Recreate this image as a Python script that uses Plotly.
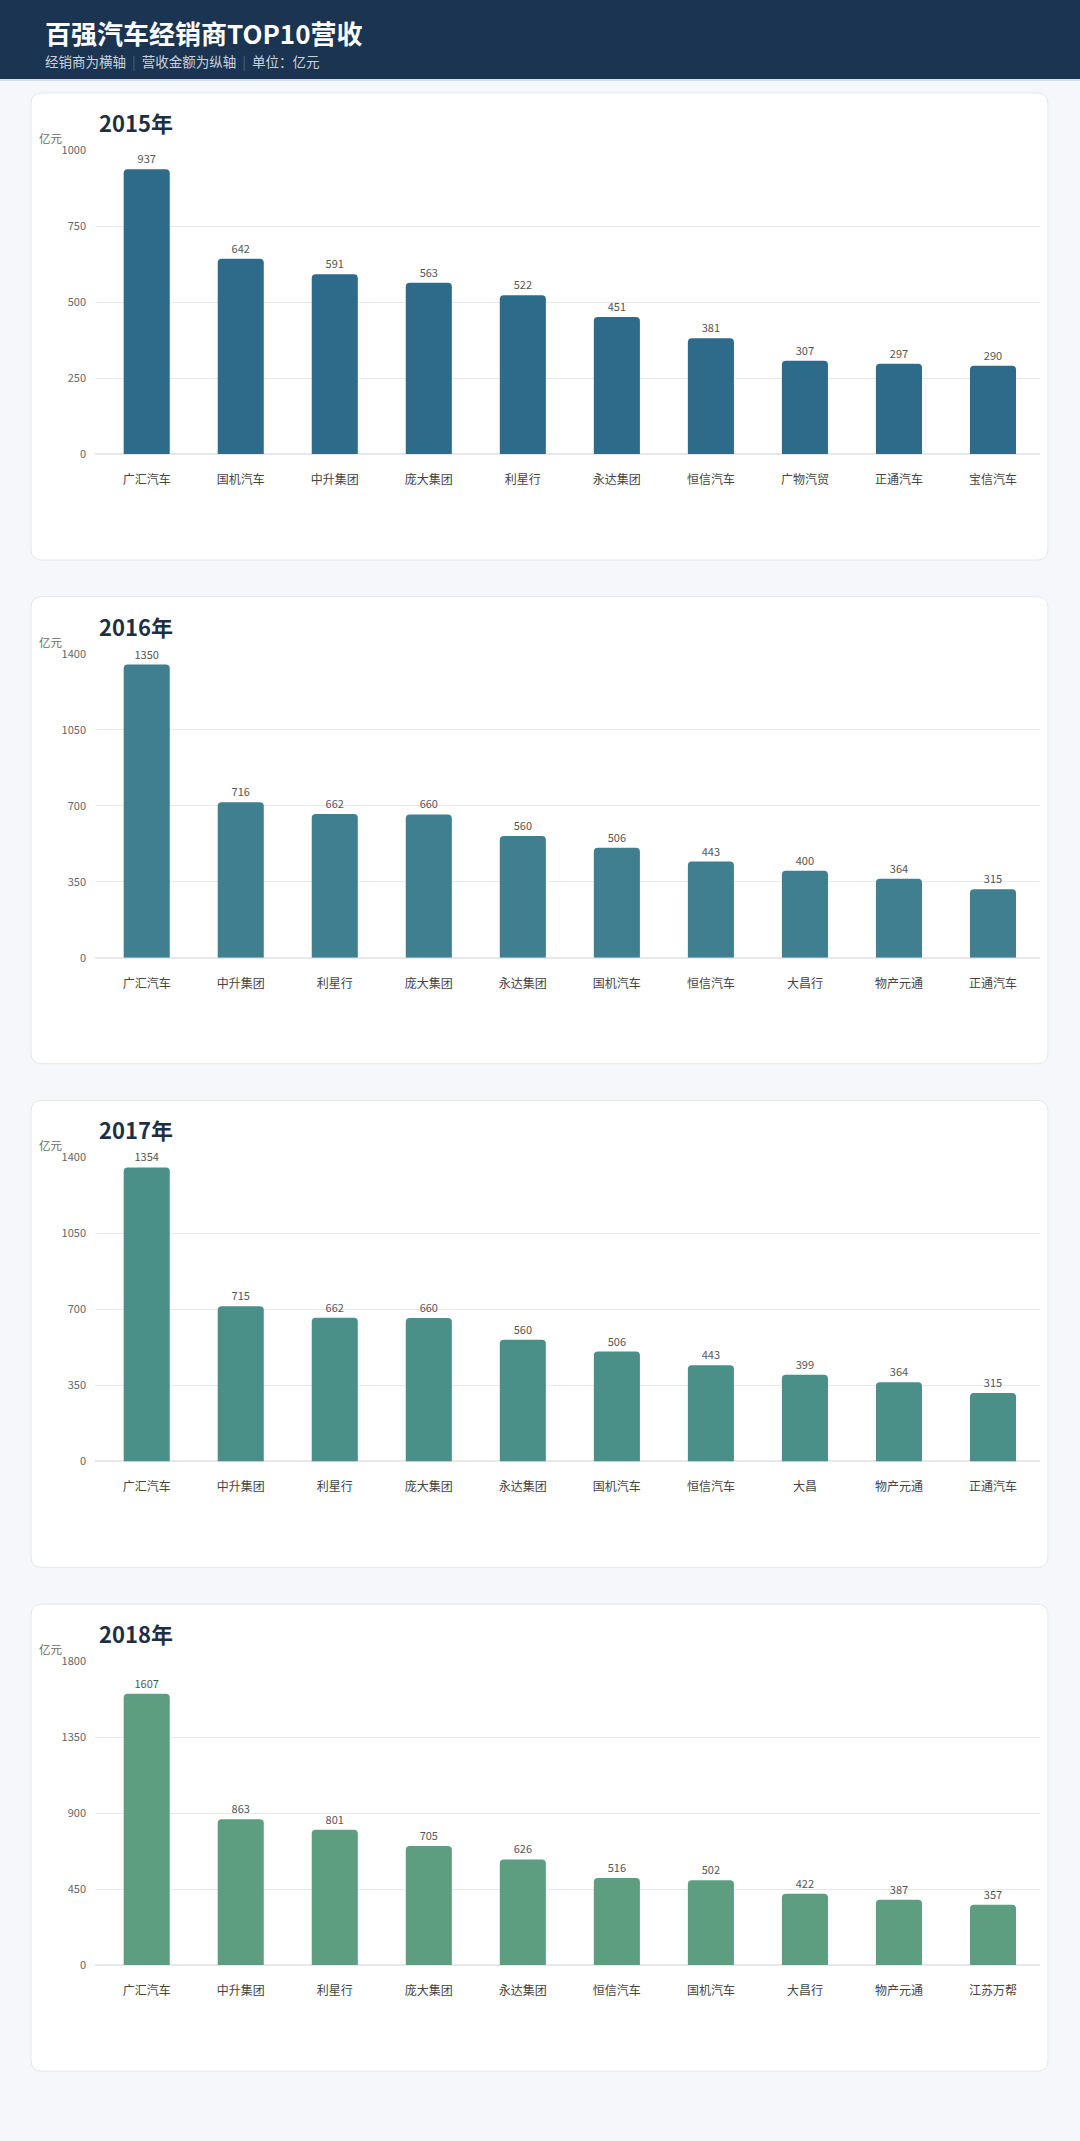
import plotly.graph_objects as go

# ---------------- data ----------------
years = ["2015年", "2016年", "2017年", "2018年"]

dealers_2015 = ["广汇汽车", "国机汽车", "中升集团", "庞大集团", "利星行", "永达集团", "恒信汽车", "广物汽贸", "正通汽车", "宝信汽车"]
revenue_2015 = [937, 642, 591, 563, 522, 451, 381, 307, 297, 290]

dealers_2016 = ["广汇汽车", "中升集团", "利星行", "庞大集团", "永达集团", "国机汽车", "恒信汽车", "大昌行", "物产元通", "正通汽车"]
revenue_2016 = [1350, 716, 662, 660, 560, 506, 443, 400, 364, 315]

dealers_2017 = ["广汇汽车", "中升集团", "利星行", "庞大集团", "永达集团", "国机汽车", "恒信汽车", "大昌", "物产元通", "正通汽车"]
revenue_2017 = [1354, 715, 662, 660, 560, 506, 443, 399, 364, 315]

dealers_2018 = ["广汇汽车", "中升集团", "利星行", "庞大集团", "永达集团", "恒信汽车", "国机汽车", "大昌行", "物产元通", "江苏万帮"]
revenue_2018 = [1607, 863, 801, 705, 626, 516, 502, 422, 387, 357]

ticks_2015 = [0, 250, 500, 750, 1000]
ticks_2016 = [0, 350, 700, 1050, 1400]
ticks_2017 = [0, 350, 700, 1050, 1400]
ticks_2018 = [0, 450, 900, 1350, 1800]

all_dealers = [dealers_2015, dealers_2016, dealers_2017, dealers_2018]
all_revenue = [revenue_2015, revenue_2016, revenue_2017, revenue_2018]
all_ticks = [ticks_2015, ticks_2016, ticks_2017, ticks_2018]
bar_colors = ["#2e6b8a", "#3f7f8f", "#4a9088", "#5e9e80"]

# ---------------- layout helpers ----------------
W, H = 1080, 2141
FONT = "Noto Sans CJK SC, Noto Sans, sans-serif"


def px(x):
    return x / W


def py(y):
    return 1 - y / H


def rounded_rect(x0, y0, x1, y1, r):
    rx, ry = r / W, r / H
    X0, X1 = px(x0), px(x1)
    Y0, Y1 = py(y0), py(y1)  # Y0 top (larger), Y1 bottom
    return (
        f"M {X0 + rx},{Y0} L {X1 - rx},{Y0} Q {X1},{Y0} {X1},{Y0 - ry} "
        f"L {X1},{Y1 + ry} Q {X1},{Y1} {X1 - rx},{Y1} "
        f"L {X0 + rx},{Y1} Q {X0},{Y1} {X0},{Y1 + ry} "
        f"L {X0},{Y0 - ry} Q {X0},{Y0} {X0 + rx},{Y0} Z"
    )


fig = go.Figure()
shapes = []
annotations = []

# header band
shapes.append(dict(type="rect", xref="paper", yref="paper", x0=0, x1=1, y0=py(79), y1=1,
                   fillcolor="#1b3452", line=dict(width=0), layer="below"))
shapes.append(dict(type="rect", xref="paper", yref="paper", x0=0, x1=1, y0=py(81), y1=py(79),
                   fillcolor="#d3e4f0", line=dict(width=0), layer="below"))
annotations.append(dict(xref="paper", yref="paper", x=px(43), y=py(33), xanchor="left", yanchor="middle",
                        text="<b>百强汽车经销商TOP10营收</b>", showarrow=False,
                        font=dict(family=FONT, size=26, color="#ffffff")))
sep = '<span style="color:#4f647c">  |  </span>'
annotations.append(dict(xref="paper", yref="paper", x=px(43), y=py(61), xanchor="left", yanchor="middle",
                        text="经销商为横轴" + sep + "营收金额为纵轴" + sep + "单位：亿元", showarrow=False,
                        font=dict(family=FONT, size=13.5, color="#c8d2de")))

card_step = 503.7
layout_axes = {}
for i in range(4):
    T = 93 + card_step * i
    # card
    shapes.append(dict(type="path", xref="paper", yref="paper",
                       path=rounded_rect(31, T, 1048, T + 467, 11),
                       fillcolor="#ffffff", line=dict(color="#e3e7ec", width=1), layer="below"))
    # title
    annotations.append(dict(xref="paper", yref="paper", x=px(97), y=py(T + 29), xanchor="left", yanchor="middle",
                            text=f"<b>{years[i]}</b>", showarrow=False,
                            font=dict(family=FONT, size=22, color="#1e2f44")))
    # unit label
    annotations.append(dict(xref="paper", yref="paper", x=px(37), y=py(T + 45), xanchor="left", yanchor="middle",
                            text="亿元", showarrow=False,
                            font=dict(family=FONT, size=11.5, color="#666666")))

    sfx = "" if i == 0 else str(i + 1)
    fig.add_trace(go.Bar(
        x=all_dealers[i], y=all_revenue[i],
        xaxis="x" + sfx, yaxis="y" + sfx,
        marker=dict(color=bar_colors[i], cornerradius=4, line=dict(width=0)),
        text=[str(v) for v in all_revenue[i]], textposition="outside",
        textfont=dict(family=FONT, size=11, color="#555555"),
        cliponaxis=False, hoverinfo="x+y", showlegend=False,
    ))
    ticks = all_ticks[i]
    layout_axes["xaxis" + sfx] = dict(
        domain=[px(95), px(1040)], anchor="y" + sfx, type="category",
        range=[-0.55, 9.5],
        showgrid=False, showline=False, zeroline=False, ticks="",
        ticklabelstandoff=17, automargin=False,
        tickfont=dict(family=FONT, size=12, color="#444444"), fixedrange=True,
    )
    layout_axes["yaxis" + sfx] = dict(
        domain=[py(T + 361), py(T + 57)], anchor="x" + sfx,
        range=[0, ticks[-1]], tickvals=ticks, ticktext=[str(t) for t in ticks],
        showgrid=True, gridcolor="#e6e8ec", gridwidth=1,
        zeroline=True, zerolinecolor="#e6e8ec", zerolinewidth=1.5,
        showline=False, ticks="", ticklabelstandoff=8, automargin=False,
        tickfont=dict(family=FONT, size=11, color="#666666"), fixedrange=True,
    )

fig.update_layout(
    template="none",
    width=W, height=H, autosize=False,
    margin=dict(l=0, r=0, t=0, b=0, pad=0, autoexpand=False),
    paper_bgcolor="#f5f7fa", plot_bgcolor="rgba(0,0,0,0)",
    bargap=0.51,
    shapes=shapes, annotations=annotations,
    font=dict(family=FONT),
    **layout_axes,
)

fig.write_html(
    "out.html",
    config={"displayModeBar": False},
    post_script="document.body.style.margin='0';document.body.style.background='#f5f7fa';",
)
